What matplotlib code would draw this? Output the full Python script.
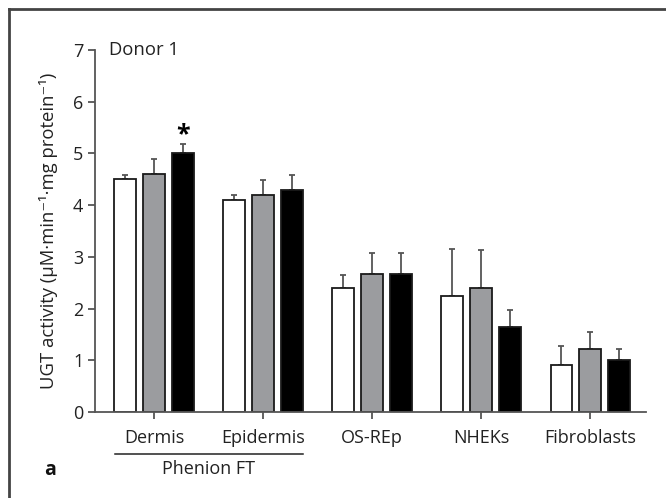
import numpy as np
import matplotlib
matplotlib.use("Agg")
import matplotlib.pyplot as plt
from matplotlib.lines import Line2D

plt.rcParams["font.family"] = ["Open Sans", "DejaVu Sans"]

groups = ["Dermis", "Epidermis", "OS-REp", "NHEKs", "Fibroblasts"]
white_vals = [4.50, 4.10, 2.39, 2.24, 0.90]
white_err = [0.08, 0.10, 0.25, 0.92, 0.37]
gray_vals = [4.60, 4.20, 2.66, 2.39, 1.21]
gray_err = [0.29, 0.29, 0.41, 0.74, 0.33]
black_vals = [5.00, 4.30, 2.66, 1.64, 1.00]
black_err = [0.19, 0.29, 0.41, 0.33, 0.22]

fig = plt.figure(figsize=(6.66, 4.98), dpi=100)
ax = fig.add_axes([0.1426, 0.1727, 0.8274, 0.7269])

x = np.arange(len(groups))
w = 0.2
off = 0.265
series = [
    (white_vals, white_err, "white"),
    (gray_vals, gray_err, "#9b9c9f"),
    (black_vals, black_err, "black"),
]
for i, (vals, err, col) in enumerate(series):
    pos = x + (i - 1) * off
    ax.bar(pos, vals, width=w, color=col, edgecolor="#1a1a1a", linewidth=1.3, zorder=2)
    ax.errorbar(pos, vals, yerr=[np.zeros(len(vals)), err], fmt="none",
                ecolor="#555555", elinewidth=1.3, capsize=2.5, capthick=1.3, zorder=1)

# significance mark on Dermis black bar
ax.text(x[0] + off, black_vals[0] + black_err[0] - 0.06, "*", ha="center", va="bottom",
        fontsize=18, fontweight="bold")

ax.set_xlim(-0.54, 4.51)
ax.set_ylim(0, 7)
ax.set_yticks(range(0, 8))
ax.set_xticks(x)
ax.set_xticklabels(groups)
for s in ["top", "right"]:
    ax.spines[s].set_visible(False)
for s in ["left", "bottom"]:
    ax.spines[s].set_color("#555555")
    ax.spines[s].set_linewidth(1.3)
ax.tick_params(axis="both", colors="#555555", labelcolor="#222222", labelsize=13,
               width=1.3, length=5)
ax.tick_params(axis="x", pad=7)
ax.set_ylabel("UGT activity (µM·min⁻¹·mg protein⁻¹)", fontsize=13.3, color="#222222",
              labelpad=11)

ax.text(0.025, 1.0, "Donor 1", transform=ax.transAxes, fontsize=13.3, va="center",
        ha="left", color="#222222")

# Phenion FT bracket
fig.add_artist(Line2D([115 / 666, 303 / 666], [1 - 454 / 498, 1 - 454 / 498],
                      color="#222222", lw=1.1))
fig.text(209 / 666, 1 - 469 / 498, "Phenion FT", ha="center", va="center",
         fontsize=13, color="#222222")
fig.text(50 / 666, 1 - 470 / 498, "a", ha="center", va="center", fontsize=14,
         fontweight="bold", color="#111111")

# frame
fig.add_artist(Line2D([9 / 666, 1], [1 - 9.5 / 498, 1 - 9.5 / 498], color="#444444", lw=2))
fig.add_artist(Line2D([9 / 666, 9 / 666], [0, 1 - 9.5 / 498], color="#444444", lw=2))

fig.savefig("out.png", dpi=100)
